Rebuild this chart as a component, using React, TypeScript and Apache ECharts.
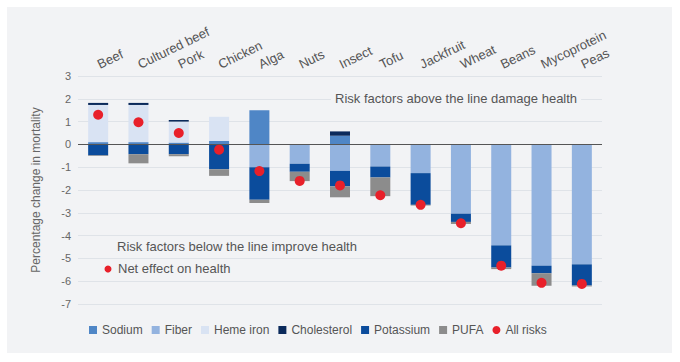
import React, { useEffect, useRef } from "react";
import * as echarts from "echarts";

const categories = ["Beef", "Cultured beef", "Pork", "Chicken", "Alga", "Nuts", "Insect", "Tofu", "Jackfruit", "Wheat", "Beans", "Mycoprotein", "Peas"];
const sodium = [0.1, 0.1, 0.08, 0.15, 1.5, 0, 0.38, 0, 0, 0, 0, 0, 0];
const fiber = [0, 0, 0, 0, -1.0, -0.85, -1.16, -0.97, -1.26, -3.04, -4.43, -5.32, -5.26];
const hemeIron = [1.63, 1.63, 0.92, 1.06, 0, 0, 0, 0, 0, 0, 0, 0, 0];
const cholesterol = [0.09, 0.09, 0.07, 0, 0, 0, 0.19, 0, 0, 0, 0, 0, 0];
const potassium = [-0.48, -0.43, -0.43, -1.09, -1.43, -0.35, -0.68, -0.48, -1.39, -0.36, -0.97, -0.33, -0.93];
const pufa = [-0.03, -0.4, -0.09, -0.29, -0.14, -0.41, -0.48, -0.82, -0.03, -0.09, -0.07, -0.55, -0.04];
const allRisks = [1.3, 0.97, 0.5, -0.23, -1.17, -1.6, -1.8, -2.23, -2.65, -3.46, -5.32, -6.07, -6.12];

const FONT = "'Liberation Sans', Arial, sans-serif";

export default function App() {
  const ref = useRef<HTMLDivElement>(null);
  useEffect(() => {
    document.body.style.margin = "0";
    const chart = echarts.init(ref.current!, null, { renderer: "svg" });
    const bar = (name: string, data: number[], color: string, extra: any = {}) => ({
      name,
      type: "bar",
      stack: "total",
      barWidth: 20,
      data,
      itemStyle: { color },
      ...extra,
    });
    chart.setOption({
      animation: false,
      textStyle: { fontFamily: FONT },
      graphic: [
        { type: "rect", z: -10, silent: true, shape: { x: 7, y: 7, width: 665, height: 346 }, style: { fill: "#f2f3f5" } },
        { type: "text", left: 331, top: 91, z: 10, style: { text: "Risk factors above the line damage health", fontSize: 13, fill: "#555", fontFamily: FONT, backgroundColor: "#f2f3f5", padding: [1, 4, 1, 4] } },
        { type: "text", left: 117, top: 240, style: { text: "Risk factors below the line improve health", fontSize: 13, fill: "#555", fontFamily: FONT } },
        { type: "circle", shape: { cx: 108, cy: 269, r: 3.5 }, style: { fill: "#e8202a" } },
        { type: "text", left: 118, top: 262, style: { text: "Net effect on health", fontSize: 13, fill: "#555", fontFamily: FONT } },
      ],
      grid: { left: 78, right: 78, top: 76, bottom: 58 },
      legend: {
        left: 84,
        top: 319,
        itemWidth: 8,
        itemHeight: 8,
        itemGap: 9,
        textStyle: { fontSize: 12, color: "#555", fontFamily: FONT },
        data: [
          { name: "Sodium", icon: "rect" },
          { name: "Fiber", icon: "rect" },
          { name: "Heme iron", icon: "rect" },
          { name: "Cholesterol", icon: "rect" },
          { name: "Potassium", icon: "rect" },
          { name: "PUFA", icon: "rect" },
          { name: "All risks", icon: "circle" },
        ],
      },
      xAxis: {
        type: "category",
        data: categories,
        position: "top",
        axisLine: { show: false, onZero: false },
        axisTick: { show: false },
        axisLabel: { interval: 0, rotate: -26, align: "left", verticalAlign: "middle", margin: 11, fontSize: 13, color: "#555", fontFamily: FONT },
      },
      yAxis: {
        type: "value",
        min: -7,
        max: 3,
        interval: 1,
        name: "Percentage change in mortality",
        nameLocation: "middle",
        nameGap: 36,
        nameTextStyle: { fontSize: 12, color: "#666", fontFamily: FONT },
        axisLine: { show: false },
        axisTick: { show: false },
        axisLabel: { margin: 7, fontSize: 11, color: "#666", fontFamily: FONT },
        splitLine: { lineStyle: { color: "#dfe3e8", width: 1 } },
      },
      series: [
        bar("Sodium", sodium, "#4f86c6", {
          markLine: {
            silent: true,
            symbol: "none",
            label: { show: false },
            lineStyle: { color: "#555", width: 1, type: "solid" },
            data: [{ yAxis: 0 }],
          },
        }),
        bar("Fiber", fiber, "#93b3df"),
        bar("Heme iron", hemeIron, "#d9e3f3"),
        bar("Cholesterol", cholesterol, "#0b2a5b"),
        bar("Potassium", potassium, "#0b4c9c"),
        bar("PUFA", pufa, "#8c8c8c"),
        {
          name: "All risks",
          type: "scatter",
          data: allRisks,
          symbolSize: 10,
          itemStyle: { color: "#e8202a", opacity: 1 },
          z: 5,
        },
      ],
    });
    return () => chart.dispose();
  }, []);
  return <div ref={ref} style={{ width: 680, height: 362 }} />;
}
